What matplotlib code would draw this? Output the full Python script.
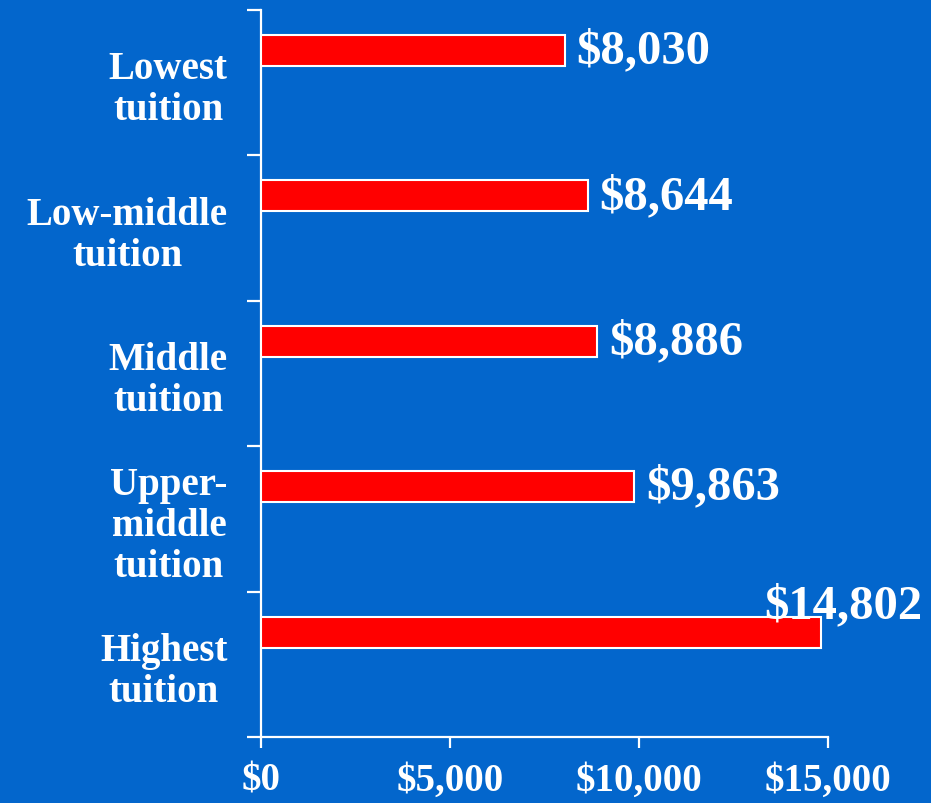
import matplotlib
matplotlib.use("Agg")
import matplotlib.pyplot as plt
import numpy as np

categories = ["Lowest\ntuition", "Low-middle\ntuition", "Middle\ntuition",
              "Upper-\nmiddle\ntuition", "Highest\ntuition"]
values = [8030, 8644, 8886, 9863, 14802]
value_labels = ["$8,030", "$8,644", "$8,886", "$9,863", "$14,802"]
xticks = [0, 5000, 10000, 15000]
xtick_labels = ["$0", "$5,000", "$10,000", "$15,000"]

BG = "#0366CC"
FONT = ["Liberation Serif", "DejaVu Serif"]

fig = plt.figure(figsize=(9.31, 8.04), dpi=100, facecolor=BG)
ax = fig.add_axes([0.2803, 0.0821, 0.6091, 0.9042], facecolor=BG)

pos = np.arange(len(values)) + 0.279
ax.barh(pos, values, height=0.213, color="#FF0000", edgecolor="white", lw=1.5, zorder=3)

ax.set_xlim(0, 15000)
ax.set_ylim(5, 0)

for sp in ["top", "right"]:
    ax.spines[sp].set_visible(False)
for sp in ["left", "bottom"]:
    ax.spines[sp].set_color("white")
    ax.spines[sp].set_linewidth(1.6)

ax.set_xticks(xticks)
ax.set_xticklabels(xtick_labels, family=FONT, fontweight="bold", fontsize=28, color="white")
ax.tick_params(axis="x", direction="out", length=8, width=1.6, color="white", pad=10)

ax.set_yticks(np.arange(6))
ax.set_yticklabels([])
ax.tick_params(axis="y", which="major", direction="out", length=10, width=1.6, color="white")
ax.set_yticks(np.arange(5) + 0.5, minor=True)
ax.set_yticklabels(categories, minor=True, family=FONT, fontweight="bold", fontsize=28,
                   color="white", multialignment="center", linespacing=1.15)
ax.tick_params(axis="y", which="minor", length=0, pad=24)

for i, (v, lab) in enumerate(zip(values, value_labels)):
    if i == len(values) - 1:
        ax.annotate(lab, (v, pos[i]), xytext=(102, 27), textcoords="offset pixels",
                    ha="right", va="center", family=FONT, fontweight="bold",
                    fontsize=35, color="white", zorder=4)
    else:
        ax.annotate(lab, (v, pos[i]), xytext=(12, 0), textcoords="offset pixels",
                    ha="left", va="center", family=FONT, fontweight="bold",
                    fontsize=35, color="white", zorder=4)

plt.savefig("out.png", dpi=100, facecolor=BG)
plt.close()
